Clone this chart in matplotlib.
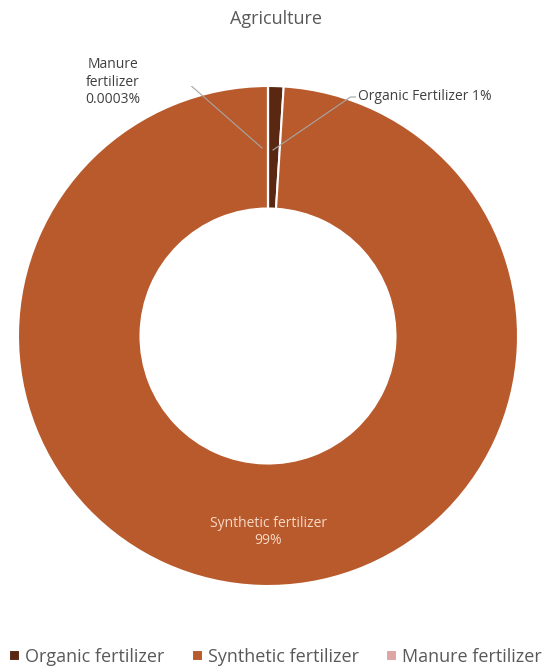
import matplotlib.pyplot as plt

categories = ["Organic fertilizer", "Synthetic fertilizer", "Manure fertilizer"]
values = [1, 99, 0.0003]
colors = ["#5A2712", "#B85A2B", "#DDA5A3"]

plt.rcParams['font.family'] = ['Open Sans', 'DejaVu Sans']

fig = plt.figure(figsize=(5.51, 6.72), dpi=100)
ax = fig.add_axes([18 / 551, (672 - 336 - 250) / 672, 500 / 551, 500 / 672])

wedges, _ = ax.pie(values, colors=colors, startangle=90, counterclock=False,
                   radius=1, wedgeprops=dict(width=0.49, edgecolor='white', linewidth=1.5))
ax.set_xlim(-1, 1)
ax.set_ylim(-1, 1)
ax.set_aspect('equal')

fig.text(0.5, 1 - 19 / 672, "Agriculture", ha='center', va='center',
         fontsize=13, color='#595959')

# data labels
ax.text(0, -0.784, "Synthetic fertilizer\n99%", ha='center', va='center',
        fontsize=10, color='#F7D9C6', linespacing=1.25)

ax.plot([0.02, 0.33, 0.35], [0.744, 0.956, 0.956], color='#A6A6A6', lw=0.8)
ax.text(0.36, 0.956, "Organic Fertilizer 1%", ha='left', va='center',
        fontsize=10, color='#404040')

ax.plot([-0.36, -0.32, -0.024], [1.012, 1.012, 0.752], color='#A6A6A6', lw=0.8)
ax.text(-0.62, 1.016, "Manure\nfertilizer\n0.0003%", ha='center', va='center',
        fontsize=10, color='#404040', linespacing=1.25)

fig.legend(wedges, categories, loc='center', bbox_to_anchor=(0.5, 1 - 657 / 672),
           ncol=3, frameon=False, fontsize=13, handlelength=0.6, handleheight=0.6,
           handletextpad=0.3, columnspacing=1.5, labelcolor='#595959')

fig.savefig("out.png", dpi=100)
